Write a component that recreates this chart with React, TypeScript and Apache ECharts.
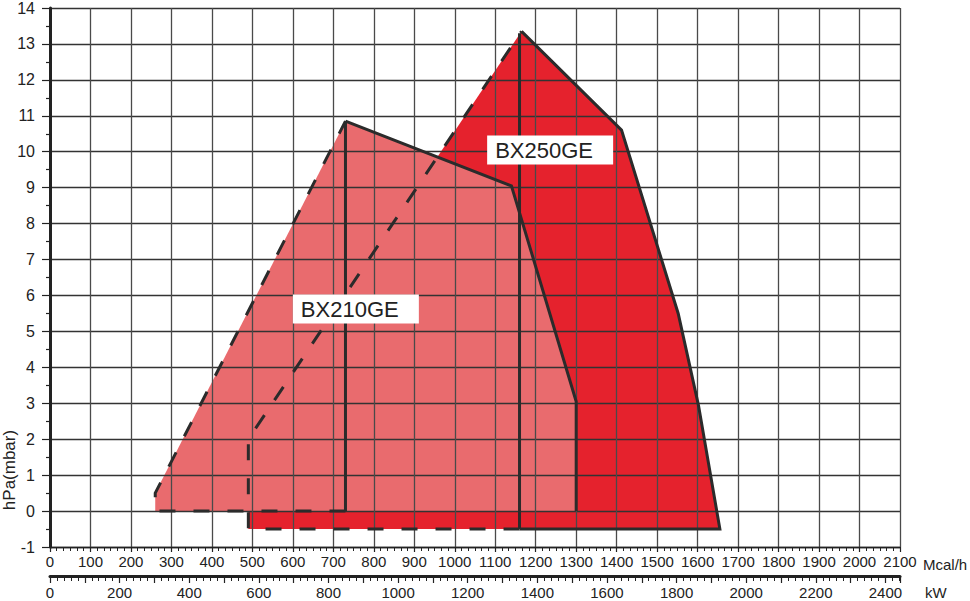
import React, { useEffect, useRef } from "react";
import * as echarts from "echarts";

// working field of the two burners, Mcal/h against hPa(mbar)
const mcalRange = [0, 2100];
const pressureRange = [-1, 14];
const kwPerMcal = 1 / 0.86;
const kwLabelStep = 200;

const bx250Fill = [[490, -0.5], [490, 2], [1165, 13.35], [1412, 10.6], [1552, 5.5], [1602, 2.95], [1655, -0.5]];
const bx250Solid = [[1165, 13.35], [1412, 10.6], [1552, 5.5], [1602, 2.95], [1655, -0.5], [1160, -0.5]];
const bx250Dashed = [[1160, -0.5], [490, -0.5], [490, 2], [1165, 13.35]];
const bx250Divider = [[1160, 13.3], [1160, -0.5]];

const bx210Fill = [[260, 0], [260, 0.5], [730, 10.85], [1140, 9.05], [1300, 3.05], [1300, 0]];
const bx210Solid = [[730, 10.85], [1140, 9.05], [1300, 3.05], [1300, 0]];
const bx210Dashed = [[730, 0], [260, 0], [260, 0.5], [730, 10.85]];
const bx210Divider = [[730, 10.85], [730, 0]];

const modelNames = ["BX250GE", "BX210GE"];
const modelLabelAt = [[1080, 10.45], [600, 6.03]];

const FONT = "'Liberation Sans', Arial, sans-serif";
const INK = "#222";
const DARK_RED = "#E5222D";
const LIGHT_RED = "#E96B6E";
const OUTLINE = "#2b2b2b";

const fillSeries = (pts: number[][], color: string) => ({
  type: "custom",
  xAxisIndex: 0,
  yAxisIndex: 0,
  z: 1,
  silent: true,
  data: [pts[0]],
  renderItem: (_p: any, api: any) => ({
    type: "polygon",
    shape: { points: pts.map((p) => api.coord(p)) },
    style: { fill: color },
  }),
});

const lineSeries = (pts: number[][], dashed: boolean) => ({
  type: "line",
  xAxisIndex: 0,
  yAxisIndex: 0,
  z: 3,
  silent: true,
  symbol: "none",
  data: pts,
  lineStyle: {
    color: OUTLINE,
    width: 3,
    type: dashed ? [16, 18] : "solid",
    cap: "butt",
    join: "miter",
  },
});

const Chart = () => {
  const chartRef = useRef<HTMLDivElement>(null);

  useEffect(() => {
    // @ts-ignore
    const chart = echarts.init(chartRef.current, null, { renderer: "svg" });

    const options = {
      animation: false,
      grid: { left: 50, right: 70, top: 8, bottom: 54 },
      xAxis: [
        {
          type: "value",
          position: "bottom",
          min: mcalRange[0],
          max: mcalRange[1],
          interval: 100,
          z: 2,
          axisLine: { onZero: false, lineStyle: { color: INK, width: 1.3 } },
          axisTick: { length: 5, lineStyle: { color: INK, width: 1.2 } },
          minorTick: { show: true, splitNumber: 6, length: 4, lineStyle: { color: INK, width: 1 } },
          splitLine: { show: true, lineStyle: { color: "#4a4a4a", width: 1.3 } },
          axisLabel: {
            color: INK,
            fontSize: 15,
            fontFamily: FONT,
            margin: 7,
            formatter: (v: number) => String(v),
          },
        },
        {
          type: "value",
          position: "bottom",
          offset: 29,
          min: mcalRange[0] * kwPerMcal,
          max: mcalRange[1] * kwPerMcal,
          interval: 100,
          z: 2,
          axisLine: { onZero: false, lineStyle: { color: INK, width: 3 } },
          axisTick: { length: 7, lineStyle: { color: INK, width: 1.2 } },
          minorTick: { show: true, splitNumber: 5, length: 5, lineStyle: { color: INK, width: 1 } },
          splitLine: { show: false },
          axisLabel: {
            color: INK,
            fontSize: 15,
            fontFamily: FONT,
            margin: 9,
            formatter: (v: number) => (Math.abs(v % kwLabelStep) < 1e-6 ? String(v) : ""),
          },
        },
      ],
      yAxis: {
        type: "value",
        min: pressureRange[0],
        max: pressureRange[1],
        interval: 1,
        z: 2,
        axisLine: { show: true, onZero: false, lineStyle: { color: INK, width: 3 } },
        axisTick: { show: true, length: 8, lineStyle: { color: INK, width: 1.2 } },
        minorTick: { show: true, splitNumber: 2, length: 4, lineStyle: { color: INK, width: 1.2 } },
        splitLine: { show: true, lineStyle: { color: "#333", width: 1.3 } },
        axisLabel: { color: INK, fontSize: 16, fontFamily: FONT, margin: 15 },
      },
      graphic: [
        {
          type: "text",
          x: 923,
          y: 564,
          z: 5,
          style: { text: "Mcal/h", fill: INK, fontSize: 15, fontFamily: FONT, verticalAlign: "middle" },
        },
        {
          type: "text",
          x: 925,
          y: 592,
          z: 5,
          style: { text: "kW", fill: INK, fontSize: 15, fontFamily: FONT, verticalAlign: "middle" },
        },
        {
          type: "text",
          x: 9,
          y: 470,
          rotation: Math.PI / 2,
          z: 5,
          style: {
            text: "hPa(mbar)",
            fill: INK,
            fontSize: 17,
            fontFamily: FONT,
            align: "center",
            verticalAlign: "middle",
          },
        },
      ],
      series: [
        fillSeries(bx250Fill, DARK_RED),
        fillSeries(bx210Fill, LIGHT_RED),
        lineSeries(bx250Dashed, true),
        lineSeries(bx210Dashed, true),
        lineSeries(bx250Solid, false),
        lineSeries(bx250Divider, false),
        lineSeries(bx210Solid, false),
        lineSeries(bx210Divider, false),
        {
          type: "custom",
          xAxisIndex: 0,
          yAxisIndex: 0,
          z: 4,
          silent: true,
          data: modelLabelAt,
          renderItem: (p: any, api: any) => {
            const pos = api.coord(modelLabelAt[p.dataIndex]);
            return {
              type: "group",
              children: [
                {
                  type: "rect",
                  shape: { x: pos[0], y: pos[1], width: 126, height: 29 },
                  style: { fill: "#fff" },
                },
                {
                  type: "text",
                  x: pos[0] + 8,
                  y: pos[1] + 15,
                  style: {
                    text: modelNames[p.dataIndex],
                    fill: INK,
                    fontSize: 22,
                    fontFamily: FONT,
                    verticalAlign: "middle",
                  },
                },
              ],
            };
          },
        },
      ],
    };

    chart.setOption(options);

    return () => {
      chart.dispose();
    };
  }, []);

  return (
    <div
      ref={chartRef}
      style={{ position: "fixed", left: 0, top: 0, width: "970px", height: "601px", background: "#fff" }}
    />
  );
};

export default function App() {
  return <Chart />;
}
